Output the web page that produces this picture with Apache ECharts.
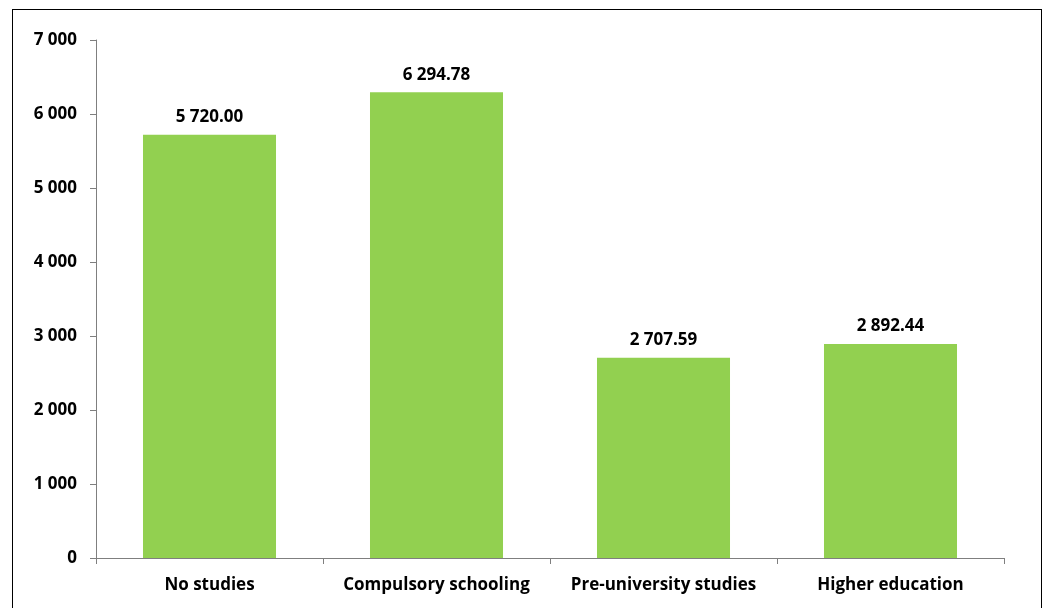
<!DOCTYPE html>
<html><head><meta charset="utf-8">
<script src="https://cdn.jsdelivr.net/npm/echarts@6/dist/echarts.min.js"></script>
<style>
html,body{margin:0;padding:0;background:#fff;overflow:hidden;}
#frame{position:absolute;left:12px;top:9px;width:1030px;height:620px;border:1px solid #000;box-sizing:border-box;}
#chart{position:absolute;left:0;top:0;width:1049px;height:608px;}
</style></head>
<body>
<div id="frame"></div>
<div id="chart"></div>
<script>
const categories = ["No studies", "Compulsory schooling", "Pre-university studies", "Higher education"];
const values = [5720.00, 6294.78, 2707.59, 2892.44];
const yTicks = [0, 1000, 2000, 3000, 4000, 5000, 6000, 7000];

function fmtThousands(v, dec) {
  const s = v.toFixed(dec);
  const parts = s.split(".");
  parts[0] = parts[0].replace(/\B(?=(\d{3})+(?!\d))/g, " ");
  return parts.join(".");
}
const FONT = "'Open Sans', 'Noto Sans', sans-serif";
const chart = echarts.init(document.getElementById('chart'), null, {renderer: 'canvas'});
chart.setOption({
  animation: false,
  grid: {left: 96, right: 45, top: 40, bottom: 50},
  xAxis: {
    type: 'category',
    data: categories,
    axisLine: {lineStyle: {color: '#7f7f7f', width: 1}},
    axisTick: {show: true, alignWithLabel: false, interval: 0, length: 6, lineStyle: {color: '#7f7f7f'}},
    axisLabel: {interval: 0, hideOverlap: false, color: '#000', fontWeight: 'bold', fontSize: 17, fontFamily: FONT, margin: 19}
  },
  yAxis: {
    type: 'value',
    min: yTicks[0], max: yTicks[yTicks.length - 1], interval: 1000,
    axisLine: {show: true, lineStyle: {color: '#7f7f7f', width: 1}},
    axisTick: {show: true, length: 6, lineStyle: {color: '#7f7f7f'}},
    splitLine: {show: false},
    axisLabel: {color: '#000', fontWeight: 'bold', fontSize: 17, fontFamily: FONT, margin: 19,
      formatter: v => fmtThousands(v, 0)}
  },
  series: [{
    type: 'bar',
    data: values,
    barWidth: '58.6%',
    itemStyle: {color: '#92D050'},
    label: {show: true, position: 'top', distance: 9, color: '#000', fontWeight: 'bold', fontSize: 17,
      fontFamily: FONT, formatter: p => fmtThousands(p.value, 2)}
  }]
});
</script>
</body></html>
